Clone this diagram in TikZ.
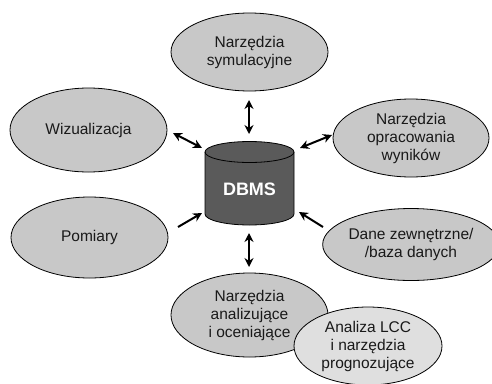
\documentclass[tikz,border=0pt]{standalone}
\usepackage{fontspec}
\setmainfont{Liberation Sans}
\usetikzlibrary{shapes.geometric,arrows.meta}
\definecolor{ellgray}{RGB}{200,200,200}
\definecolor{lccgray}{RGB}{223,223,223}
\definecolor{dbgray}{RGB}{90,90,90}
\tikzset{
  ell/.style={ellipse, draw=black, line width=0.8pt, fill=ellgray, inner sep=0pt, align=center,
    font=\fontsize{15.5}{18}\selectfont, text=black!90},
  dblarrow/.style={line width=2pt, {Stealth[length=9pt,width=9pt]}-{Stealth[length=9pt,width=9pt]}},
  onearrow/.style={line width=2pt, -{Stealth[length=9pt,width=9pt]}},
}
\begin{document}
\begin{tikzpicture}[x=1pt,y=-1pt]
\useasboundingbox (0,0) rectangle (492,383);
% ellipses
\node[ell, minimum width=157pt, minimum height=78pt] (sym) at (249.5,52) {Narzędzia\\symulacyjne};
\node[ell, minimum width=157pt, minimum height=84pt] (wiz) at (88.5,130) {Wizualizacja};
\node[ell, minimum width=156pt, minimum height=78pt] (opr) at (411,138) {Narzędzia\\opracowania\\wyników};
\node[ell, minimum width=156pt, minimum height=72pt] (dane) at (411,244.5) {Dane zewnętrzne/\\/baza danych};
\node[ell, minimum width=157pt, minimum height=81pt] (pom) at (89.5,237.5) {Pomiary};
\node[ell, minimum width=157pt, minimum height=84pt] (ana) at (249.5,315) {Narzędzia\\analizujące\\i oceniające};
\node[ell, fill=lccgray, minimum width=148pt, minimum height=78pt] (lcc) at (368,346) {Analiza LCC\\i narzędzia\\prognozujące};
% cylinder
\fill[dbgray] (205,152) -- (205,214) arc[start angle=180,end angle=360,x radius=44.5pt,y radius=11pt] -- (294,152) -- cycle;
\draw[line width=0.8pt] (205,152) -- (205,214) arc[start angle=180,end angle=360,x radius=44.5pt,y radius=11pt] -- (294,152);
\draw[line width=0.8pt, fill=dbgray] (249.5,152) ellipse[x radius=44.5pt,y radius=10.5pt];
\node[text=white, font=\bfseries\fontsize{18}{20}\selectfont] (db) at (249.5,189) {DBMS};
% connector ends
\coordinate (t1) at (249,100); \coordinate (t2) at (249,134);
\coordinate (ul1) at (173,133); \coordinate (ul2) at (202,148);
\coordinate (ur1) at (300,148); \coordinate (ur2) at (332,135);
\coordinate (ll1) at (178,227); \coordinate (ll2) at (202,213);
\coordinate (lr1) at (323,227); \coordinate (lr2) at (299,212);
\coordinate (b1) at (249,233); \coordinate (b2) at (249,267);
\draw[dblarrow] (t1) -- (t2);
\draw[dblarrow] (ul1) -- (ul2);
\draw[dblarrow] (ur1) -- (ur2);
\draw[onearrow] (ll1) -- (ll2);
\draw[onearrow] (lr1) -- (lr2);
\draw[dblarrow] (b1) -- (b2);
\end{tikzpicture}
\end{document}
